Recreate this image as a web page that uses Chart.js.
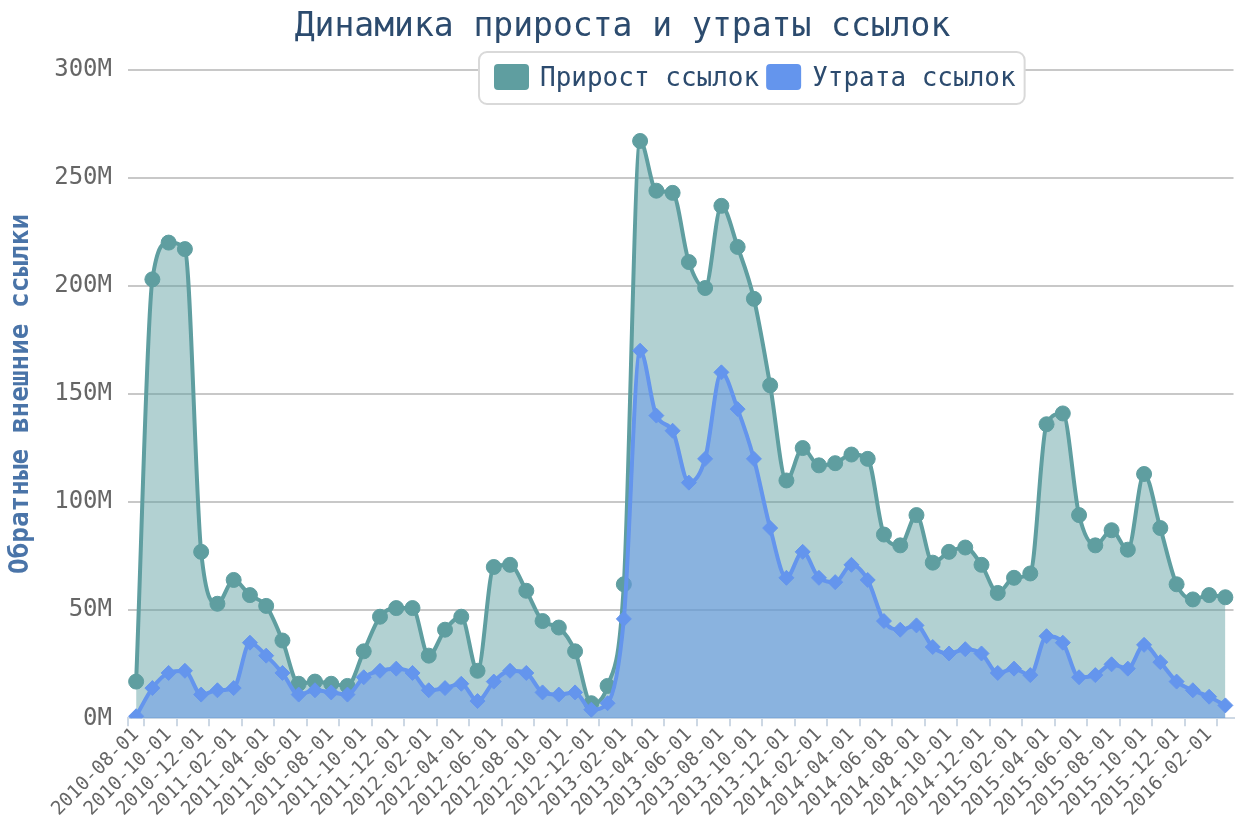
<!DOCTYPE html>
<html>
<head>
<meta charset="utf-8">
<title>Динамика прироста и утраты ссылок</title>
<script src="https://cdn.jsdelivr.net/npm/chart.js@4.4.0/dist/chart.umd.min.js"></script>
<style>
  html, body { margin: 0; padding: 0; background: #fff; }
  #wrap { width: 1242px; height: 818px; }
</style>
</head>
<body>
<div id="wrap"><canvas id="myChart"></canvas></div>
<script>
const months = [
  '2010-08-01','2010-09-01','2010-10-01','2010-11-01','2010-12-01',
  '2011-01-01','2011-02-01','2011-03-01','2011-04-01','2011-05-01','2011-06-01',
  '2011-07-01','2011-08-01','2011-09-01','2011-10-01','2011-11-01','2011-12-01',
  '2012-01-01','2012-02-01','2012-03-01','2012-04-01','2012-05-01','2012-06-01',
  '2012-07-01','2012-08-01','2012-09-01','2012-10-01','2012-11-01','2012-12-01',
  '2013-01-01','2013-02-01','2013-03-01','2013-04-01','2013-05-01','2013-06-01',
  '2013-07-01','2013-08-01','2013-09-01','2013-10-01','2013-11-01','2013-12-01',
  '2014-01-01','2014-02-01','2014-03-01','2014-04-01','2014-05-01','2014-06-01',
  '2014-07-01','2014-08-01','2014-09-01','2014-10-01','2014-11-01','2014-12-01',
  '2015-01-01','2015-02-01','2015-03-01','2015-04-01','2015-05-01','2015-06-01',
  '2015-07-01','2015-08-01','2015-09-01','2015-10-01','2015-11-01','2015-12-01',
  '2016-01-01','2016-02-01','2016-03-01'
]

// millions of links
const gained = [
  17, 203, 220, 217, 77,
  53, 64, 57, 52, 36, 16, 17, 16, 15, 31, 47, 51,
  51, 29, 41, 47, 22, 70, 71, 59, 45, 42, 31, 7,
  15, 62, 267, 244, 243, 211, 199, 237, 218, 194, 154, 110,
  125, 117, 118, 122, 120, 85, 80, 94, 72, 77, 79, 71,
  58, 65, 67, 136, 141, 94, 80, 87, 78, 113, 88, 62,
  55, 57, 56
]
const lost = [
  1, 14, 21, 22, 11,
  13, 14, 35, 29, 21, 11, 13, 12, 11, 19, 22, 23,
  21, 13, 14, 16, 8, 17, 22, 21, 12, 11, 12, 4,
  7, 46, 170, 140, 133, 109, 120, 160, 143, 120, 88, 65,
  77, 65, 63, 71, 64, 45, 41, 43, 33, 30, 32, 30,
  21, 23, 20, 38, 35, 19, 20, 25, 23, 34, 26, 17,
  13, 10, 6
]
const seriesNames = ['Прирост ссылок', 'Утрата ссылок']
const yMax = 300
const yStep = 50

const mono = '"DejaVu Sans Mono", "Liberation Mono", monospace'
const navy = '#2c4b6e'
const axisBlue = '#cdd8e4'

// legend in a rounded white box, laid over the top gridline
const boxLegend = {
  id: 'boxLegend',
  afterDraw(chart) {
    const ctx = chart.ctx
    ctx.save()
    ctx.font = '26px ' + mono
    const items = chart.data.datasets.map(ds => ({
      text: ds.label, color: ds.borderColor, w: ctx.measureText(ds.label).width
    }))
    const padL = 15, padR = 9, sw = 35, sh = 26, gap = 11, between = 7
    let W = padL + padR - between
    items.forEach(it => { W += sw + gap + it.w + between })
    const H = 52
    const x0 = Math.round(752 - W / 2), y0 = 52
    ctx.fillStyle = '#fff'
    ctx.strokeStyle = '#d9d9d9'
    ctx.lineWidth = 2
    ctx.beginPath()
    ctx.roundRect(x0, y0, W, H, 8)
    ctx.fill()
    ctx.stroke()
    let x = x0 + padL
    const cy = y0 + H / 2
    items.forEach(it => {
      ctx.fillStyle = it.color
      ctx.beginPath()
      ctx.roundRect(x, cy - sh / 2 - 1, sw, sh, 4)
      ctx.fill()
      x += sw + gap
      ctx.fillStyle = navy
      ctx.textAlign = 'left'
      ctx.textBaseline = 'middle'
      ctx.fillText(it.text, x, cy + 1)
      x += it.w + between
    })
    ctx.restore()
  }
}

const ctx = document.getElementById('myChart')
new Chart(ctx, {
  type: 'line',
  data: {
    labels: months,
    datasets: [{
      label: seriesNames[0],
      data: gained,
      borderColor: '#5f9ea0',
      backgroundColor: 'rgba(95,158,160,0.48)',
      fill: 'origin',
      borderWidth: 4,
      cubicInterpolationMode: 'monotone',
      pointStyle: 'circle',
      pointRadius: 7.5,
      pointBorderWidth: 1,
      pointBackgroundColor: '#5f9ea0',
      pointBorderColor: '#5f9ea0',
      order: 2
    }, {
      label: seriesNames[1],
      data: lost,
      borderColor: '#6495ed',
      backgroundColor: 'rgba(100,149,237,0.5)',
      fill: 'origin',
      borderWidth: 4,
      cubicInterpolationMode: 'monotone',
      pointStyle: 'rectRot',
      pointRadius: 7.5,
      pointBorderWidth: 1,
      pointBackgroundColor: '#6495ed',
      pointBorderColor: '#6495ed',
      order: 1
    }]
  },
  options: {
    responsive: true,
    maintainAspectRatio: false,
    animation: false,
    layout: { padding: { left: 0, right: -3, top: 0, bottom: 0 } },
    plugins: {
      legend: { display: false },
      tooltip: { enabled: false },
      title: {
        display: true,
        text: 'Динамика прироста и утраты ссылок',
        color: navy,
        font: { family: mono, size: 33, weight: 'normal' },
        padding: { top: 8, bottom: 22 }
      }
    },
    scales: {
      x: {
        offset: true,
        grid: {
          offset: true,
          drawOnChartArea: false,
          drawTicks: true,
          tickLength: 8,
          lineWidth: 2,
          color: c => ((c.index === 0 || c.index % 2 === 1) && c.index < months.length) ? axisBlue : 'rgba(0,0,0,0)',
          tickColor: c => ((c.index === 0 || c.index % 2 === 1) && c.index < months.length) ? axisBlue : 'rgba(0,0,0,0)'
        },
        border: { display: true, color: axisBlue, width: 2 },
        ticks: {
          autoSkip: false,
          maxRotation: 45,
          minRotation: 45,
          padding: 0,
          color: '#666',
          font: { family: mono, size: 19, lineHeight: 0.8 },
          callback: (v, i) => (i % 2 === 0 ? months[i] : '')
        }
      },
      y: {
        min: 0,
        max: yMax,
        grid: { color: '#c8c8c8', lineWidth: 2, drawTicks: false },
        border: { display: false },
        ticks: {
          stepSize: yStep,
          padding: 16,
          color: '#666',
          font: { family: mono, size: 24 },
          callback: v => v + 'M'
        },
        title: {
          display: true,
          text: 'Обратные внешние ссылки',
          color: '#4a74a8',
          font: { family: mono, size: 26, weight: 'bold' },
          padding: { top: 6, bottom: 1 }
        }
      }
    }
  },
  plugins: [boxLegend]
})
</script>
</body>
</html>
